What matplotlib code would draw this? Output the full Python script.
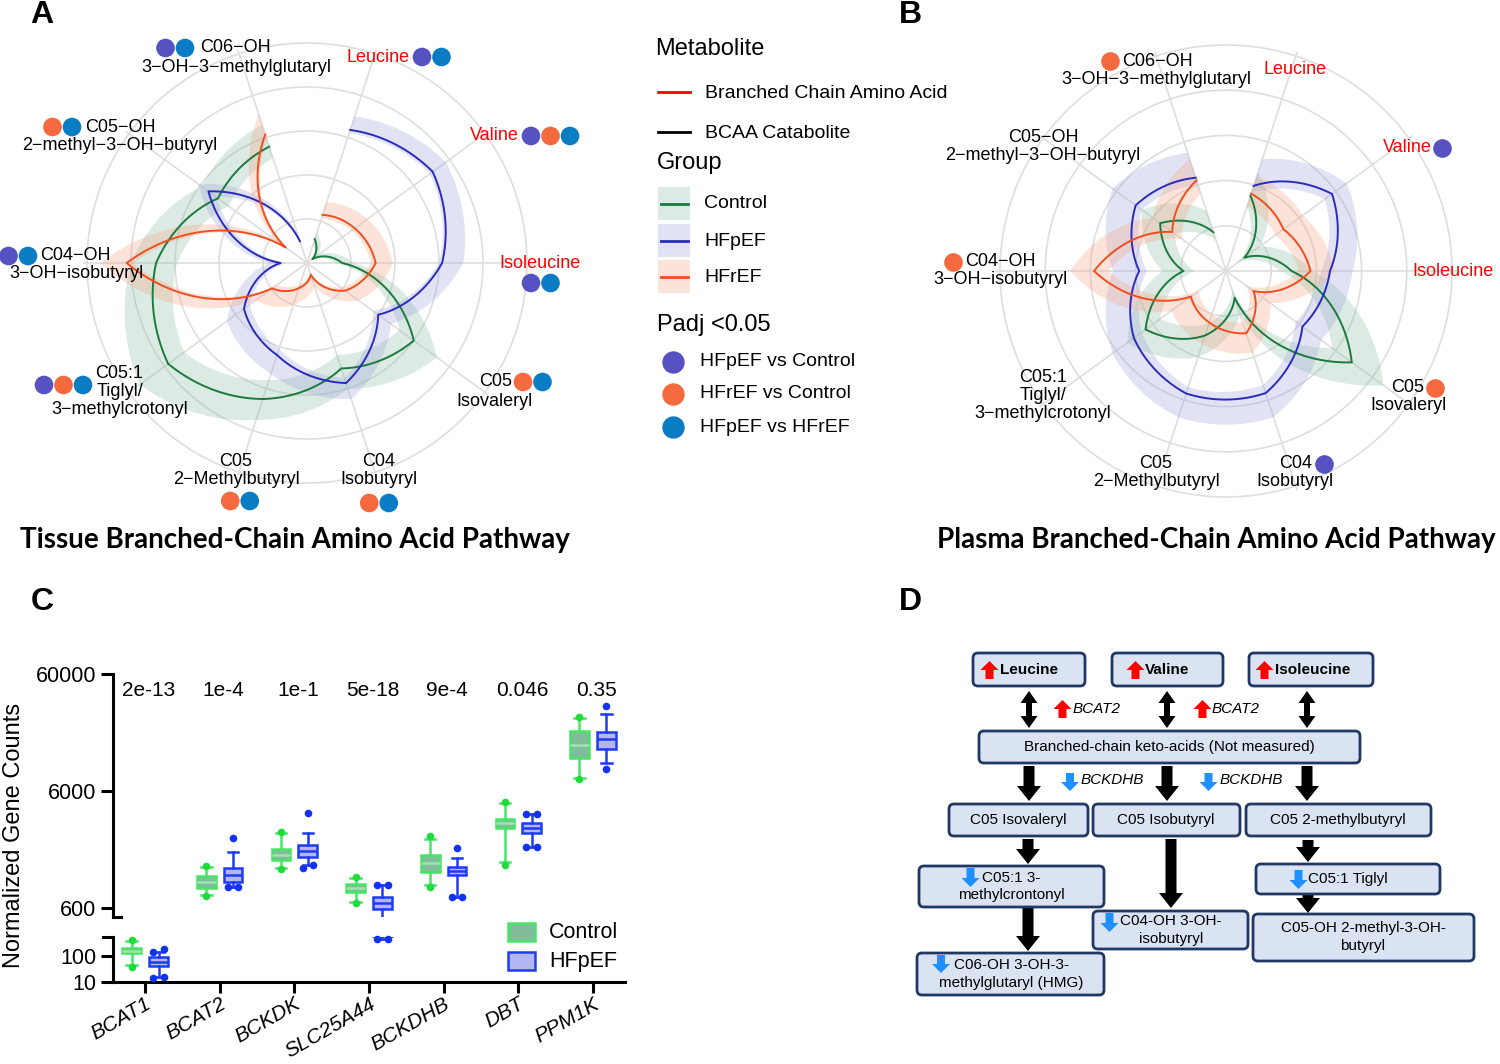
import numpy as np
import matplotlib
matplotlib.use('Agg')
import matplotlib.pyplot as plt
import matplotlib.transforms as mtransforms
from matplotlib import font_manager
from matplotlib.patches import Rectangle, FancyBboxPatch, FancyArrow

# ------------------------------------------------------------------
# Radar data (ring scale 0-5)
# spoke order: Leucine, Valine, Isoleucine, C05 Isovaleryl, C04 Isobutyryl,
#              C05 2-Methylbutyryl, C05:1 Tiglyl, C04-OH, C05-OH, C06-OH
# ------------------------------------------------------------------
metabolites = ['Leucine', 'Valine', 'Isoleucine', 'C05 Isovaleryl', 'C04 Isobutyryl',
               'C05 2-Methylbutyryl', 'C05:1 Tiglyl', 'C04-OH', 'C05-OH', 'C06-OH']
is_bcaa = [True, True, True, False, False, False, False, False, False, False]

tis_ctrl = [0.57, 0.15, 0.80, 3.00, 2.52, 3.25, 3.90, 3.43, 2.50, 2.78]
tis_ctrl_lo = [0.45, 0.10, 0.65, 2.60, 2.20, 2.80, 3.45, 2.95, 2.20, 2.50]
tis_ctrl_hi = [0.75, 0.30, 1.05, 3.65, 3.00, 3.75, 4.70, 4.00, 2.95, 3.30]
tis_hfpef = [3.18, 3.53, 3.07, 2.00, 2.87, 2.20, 1.77, 0.60, 2.77, 0.52]
tis_hfpef_lo = [3.10, 3.45, 3.00, 1.85, 2.75, 2.05, 1.60, 0.45, 2.55, 0.45]
tis_hfpef_hi = [3.50, 3.90, 3.55, 2.35, 3.25, 2.65, 2.25, 0.85, 3.05, 0.70]
tis_hfref = [1.15, 1.34, 1.56, 1.07, 0.28, 0.60, 0.98, 4.10, 0.60, 3.07]
tis_hfref_lo = [1.05, 1.25, 1.45, 0.95, 0.20, 0.50, 0.85, 3.95, 0.50, 2.95]
tis_hfref_hi = [1.45, 1.70, 1.95, 1.45, 0.55, 1.00, 1.45, 4.70, 0.85, 3.55]

pla_ctrl = [1.75, 0.50, 1.45, 3.44, 0.62, 1.50, 2.20, 0.94, 1.80, 0.90]
pla_ctrl_lo = [1.50, 0.30, 1.20, 2.90, 0.45, 1.20, 1.80, 0.70, 1.40, 0.70]
pla_ctrl_hi = [2.30, 0.90, 1.90, 4.30, 1.00, 2.00, 2.70, 1.40, 2.30, 1.40]
pla_hfpef = [1.98, 2.90, 2.30, 2.09, 2.84, 2.85, 2.52, 1.92, 2.47, 2.17]
pla_hfpef_lo = [1.80, 2.70, 2.10, 1.90, 2.65, 2.70, 2.30, 1.75, 2.30, 2.00]
pla_hfpef_hi = [2.60, 3.30, 2.80, 2.60, 3.40, 3.40, 3.10, 2.50, 3.10, 2.75]
pla_hfref = [1.80, 1.57, 1.87, 0.75, 1.45, 1.20, 0.96, 2.92, 1.47, 2.11]
pla_hfref_lo = [1.50, 1.35, 1.60, 0.55, 1.20, 1.00, 0.75, 2.60, 1.20, 1.80]
pla_hfref_hi = [2.20, 2.10, 2.40, 1.20, 1.90, 1.70, 1.50, 3.45, 2.00, 2.60]

# Padj < 0.05: pc = HFpEF vs Control, rc = HFrEF vs Control, pr = HFpEF vs HFrEF
tis_sig = [['pc', 'pr'], ['pc', 'rc', 'pr'], ['pc', 'pr'], ['rc', 'pr'], ['rc', 'pr'],
           ['rc', 'pr'], ['pc', 'rc', 'pr'], ['pc', 'pr'], ['rc', 'pr'], ['pc', 'pr']]
pla_sig = [[], ['pc'], [], ['rc'], ['pc'], [], [], ['rc'], [], ['rc']]

# ------------------------------------------------------------------
# Panel C data (normalized gene counts)
# ------------------------------------------------------------------
genes = ['BCAT1', 'BCAT2', 'BCKDK', 'SLC25A44', 'BCKDHB', 'DBT', 'PPM1K']
pvals = ['2e-13', '1e-4', '1e-1', '5e-18', '9e-4', '0.046', '0.35']

ctrl_q1 = [130, 889, 1541, 822, 1218, 2897, 11480]
ctrl_med = [155, 1000, 1702, 889, 1455, 3192, 14830]
ctrl_q3 = [204, 1127, 1915, 962, 1702, 3459, 19540]
ctrl_wlo = [45, 774, 1318, 675, 944, 1483, 7740]
ctrl_whi = [380, 1343, 2626, 1082, 2333, 4732, 25230]
ctrl_out_hi = [[400], [1380], [2680], [1110], [2474], [4850], [25800]]
ctrl_out_lo = [[38], [760], [1300], [665], [906], [1396], [7600]]

hfpef_q1 = [41, 1000, 1636, 588, 1148, 2626, 13700]
hfpef_med = [59, 1148, 1842, 662, 1241, 2897, 16690]
hfpef_q3 = [91, 1318, 2070, 745, 1343, 3192, 19150]
hfpef_wlo = [15.6, 906, 1396, 440, 745, 1995, 10400]
hfpef_whi = [142, 1806, 2626, 944, 1603, 3818, 27290]
hfpef_out_hi = [[142, 185], [2378], [3900], [944, 944], [1950], [3818, 3818], [31920]]
hfpef_out_lo = [[14, 16], [906, 906], [1318, 1396], [440, 440], [745, 745], [1995, 1995], [9240]]

# ------------------------------------------------------------------
W, H = 1500, 1064
fig = plt.figure(figsize=(15, 10.64), dpi=100)
plt.rcParams['font.family'] = ['Liberation Sans', 'DejaVu Sans']

names = {f.name for f in font_manager.fontManager.ttflist}
narrow = 'Liberation Sans Narrow' if 'Liberation Sans Narrow' in names else 'Liberation Sans'
d_fs = 13.2 if 'Narrow' in narrow else 11
title_font = ['Lato', 'DejaVu Sans'] if 'Lato' in names else ['DejaVu Sans']

line_col = {'ctrl': '#1b7a3e', 'hfpef': '#2b2bbb', 'hfref': '#f04e1e'}
band_col = {'ctrl': '#8abca2', 'hfpef': '#9ea5de', 'hfref': '#f8a584'}
sig_col = {'pc': '#5752c2', 'rc': '#f46a3e', 'pr': '#0a7cc4'}

# overlay in pixel coordinates for labels, legend and the pathway diagram
ov = fig.add_axes([0, 0, 1, 1], zorder=5)
ov.set_xlim(0, W)
ov.set_ylim(H, 0)
ov.axis('off')

spoke_deg = np.array([72, 36, 0, -36, -72, -108, -144, -180, -216, -252])
RMAX = 5.1


def radar(cx, cy, r5, series):
    rad = r5 * RMAX / 5
    ax = fig.add_axes([(cx - rad) / W, 1 - (cy + rad) / H, 2 * rad / W, 2 * rad / H],
                      projection='polar')
    th = np.deg2rad(spoke_deg)
    for vals, lo, hi, key in series:
        poly = ax.fill(np.concatenate([th, th[::-1]]),
                       np.concatenate([np.array(hi), np.array(lo)[::-1]]),
                       color=band_col[key], alpha=0.3, lw=0, zorder=2)[0]
        poly.get_path()._interpolation_steps = 40
    for vals, lo, hi, key in series:
        ln, = ax.plot(th, vals, color=line_col[key], lw=1.4, zorder=3)
        ln.get_path()._interpolation_steps = 40
    ax.set_xlim(0, 2 * np.pi)
    ax.set_ylim(0, RMAX)
    ax.set_yticks([1, 2, 3, 4, 5])
    ax.set_yticklabels([])
    ax.set_xticks(np.deg2rad(spoke_deg % 360))
    ax.set_xticklabels([])
    ax.grid(True, color='#dedede', lw=1.2)
    ax.spines['polar'].set_visible(False)
    ax.set_facecolor('none')
    return ax


radar(307, 263, 220, [(tis_ctrl, tis_ctrl_lo, tis_ctrl_hi, 'ctrl'),
                      (tis_hfpef, tis_hfpef_lo, tis_hfpef_hi, 'hfpef'),
                      (tis_hfref, tis_hfref_lo, tis_hfref_hi, 'hfref')])
radar(1226, 271, 226, [(pla_ctrl, pla_ctrl_lo, pla_ctrl_hi, 'ctrl'),
                       (pla_hfpef, pla_hfpef_lo, pla_hfpef_hi, 'hfpef'),
                       (pla_hfref, pla_hfref_lo, pla_hfref_hi, 'hfref')])

M = '\u2212'
# label layout: text lines (x, y, text, ha) and anchor for the significance dots
lab_a = [
    ([(410, 57, 'Leucine', 'right')], (422, 57, 'right')),
    ([(519, 136, 'Valine', 'right')], (531, 136, 'right')),
    ([(499, 264, 'Isoleucine', 'left')], (531, 283, 'right')),
    ([(512, 382, 'C05', 'right'), (495, 401, 'Isovaleryl', 'center')], (523, 382, 'right')),
    ([(379, 461, 'C04', 'center'), (379, 480, 'Isobutyryl', 'center')], (379, 503, 'center')),
    ([(236, 461, 'C05', 'center'), (236, 480, '2' + M + 'Methylbutyryl', 'center')], (240, 501, 'center')),
    ([(95, 373, 'C05:1', 'left'), (97, 392, 'Tiglyl/', 'left'),
      (120, 410, '3' + M + 'methylcrotonyl', 'center')], (83, 385, 'left')),
    ([(40, 255, 'C04' + M + 'OH', 'left'), (76, 273, '3' + M + 'OH' + M + 'isobutyryl', 'center')], (28, 256, 'left')),
    ([(85, 127, 'C05' + M + 'OH', 'left'),
      (120, 146, '2' + M + 'methyl' + M + '3' + M + 'OH' + M + 'butyryl', 'center')], (72, 127, 'left')),
    ([(200, 48, 'C06' + M + 'OH', 'left'),
      (236, 67, '3' + M + 'OH' + M + '3' + M + 'methylglutaryl', 'center')], (185, 48, 'left')),
]
lab_b = [
    ([(1295, 70, 'Leucine', 'center')], (1340, 70, 'right')),
    ([(1432, 147, 'Valine', 'right')], (1442, 148, 'right')),
    ([(1412, 271, 'Isoleucine', 'left')], (1440, 290, 'right')),
    ([(1424, 387, 'C05', 'right'), (1408, 405, 'Isovaleryl', 'center')], (1435, 388, 'right')),
    ([(1296, 464, 'C04', 'center'), (1295, 482, 'Isobutyryl', 'center')], (1324, 464, 'right')),
    ([(1156, 464, 'C05', 'center'), (1156, 482, '2' + M + 'Methylbutyryl', 'center')], (1156, 503, 'center')),
    ([(1043, 378, 'C05:1', 'center'), (1043, 396, 'Tiglyl/', 'center'),
      (1043, 414, '3' + M + 'methylcrotonyl', 'center')], (1000, 388, 'left')),
    ([(965, 262, 'C04' + M + 'OH', 'left'), (1000, 280, '3' + M + 'OH' + M + 'isobutyryl', 'center')], (953, 262, 'left')),
    ([(1043, 138, 'C05' + M + 'OH', 'center'),
      (1043, 156, '2' + M + 'methyl' + M + '3' + M + 'OH' + M + 'butyryl', 'center')], (1000, 138, 'left')),
    ([(1122, 61, 'C06' + M + 'OH', 'left'),
      (1156, 79, '3' + M + 'OH' + M + '3' + M + 'methylglutaryl', 'center')], (1110, 61, 'left')),
]

STEP = 19.5


def radar_labels(layout, sigs):
    for (lines, dot), red, sig in zip(layout, is_bcaa, sigs):
        for x, y, s, ha in lines:
            ov.text(x, y, s, ha=ha, va='center', fontsize=13, color='#ff0000' if red else 'black')
        n = len(sig)
        if n == 0:
            continue
        x0, y0, align = dot
        if align == 'right':
            xs = x0 + STEP * np.arange(n)
        elif align == 'left':
            xs = x0 - STEP * np.arange(n)[::-1]
        else:
            xs = x0 + STEP * (np.arange(n) - (n - 1) / 2)
        ov.scatter(xs, [y0] * n, s=180, c=[sig_col[c] for c in sig], lw=0, zorder=6)


radar_labels(lab_a, tis_sig)
radar_labels(lab_b, pla_sig)

# ------------------------------------------------------------------
# Middle legend
# ------------------------------------------------------------------
ov.text(655, 49, 'Metabolite', fontsize=17, va='center')
ov.plot([658, 690], [92, 92], color='#ff0000', lw=2)
ov.text(705, 93, 'Branched Chain Amino Acid', fontsize=14, va='center')
ov.plot([658, 690], [132, 132], color='black', lw=2)
ov.text(705, 133, 'BCAA Catabolite', fontsize=14, va='center')
ov.text(657, 163, 'Group', fontsize=17, va='center')
for (y, key, lab) in [(187, 'ctrl', 'Control'), (224, 'hfpef', 'HFpEF'), (260, 'hfref', 'HFrEF')]:
    ov.add_patch(Rectangle((658, y), 32, 33, color=band_col[key], alpha=0.3, lw=0))
    ov.plot([661, 688], [y + 17, y + 17], color=line_col[key], lw=2)
    ov.text(704, y + 17, lab, fontsize=14, va='center')
ov.text(657, 325, 'Padj <0.05', fontsize=17, va='center')
for (y, key, lab) in [(362, 'pc', 'HFpEF vs Control'), (394, 'rc', 'HFrEF vs Control'),
                      (427, 'pr', 'HFpEF vs HFrEF')]:
    ov.scatter([673], [y], s=260, color=sig_col[key], lw=0)
    ov.text(700, y, lab, fontsize=14, va='center')

# panel letters and titles
for lt, x, y in [('A', 42, 15), ('B', 910, 15), ('C', 42, 602), ('D', 910, 602)]:
    ov.text(x, y, lt, fontsize=23, fontweight='bold', ha='center', va='center')
ov.text(295, 540, 'Tissue Branched-Chain Amino Acid Pathway', fontsize=20, fontweight='bold',
        ha='center', va='center', family=title_font)
ov.text(1216, 540, 'Plasma Branched-Chain Amino Acid Pathway', fontsize=20, fontweight='bold',
        ha='center', va='center', family=title_font)

# ------------------------------------------------------------------
# Panel C: broken log axis box plots
# ------------------------------------------------------------------
C_L, C_R = 113, 625
up_top, up_bot = 674, 917
lo_top, lo_bot = 937, 982
ax_up = fig.add_axes([C_L / W, 1 - up_bot / H, (C_R - C_L) / W, (up_bot - up_top) / H])
ax_lo = fig.add_axes([C_L / W, 1 - lo_bot / H, (C_R - C_L) / W, (lo_bot - lo_top) / H])
up_min = 60000 / 10 ** ((up_bot - up_top) / 117)
lo_max = 10 ** (1 + (lo_bot - lo_top) / 26)

ctrl_face, ctrl_edge, ctrl_med_c, ctrl_dot = '#80bd9c', '#45e565', '#9fe3ae', '#1fdc3a'
hf_face, hf_edge, hf_med_c, hf_dot = '#b3b6f2', '#1d3cf0', '#1d3cf0', '#1133ee'

xpos = np.arange(len(genes))


def box_stats(q1, med, q3, wlo, whi):
    return [dict(q1=a, med=b, q3=c, whislo=d, whishi=e, fliers=[])
            for a, b, c, d, e in zip(q1, med, q3, wlo, whi)]


ctrl_stats = box_stats(ctrl_q1, ctrl_med, ctrl_q3, ctrl_wlo, ctrl_whi)
hf_stats = box_stats(hfpef_q1, hfpef_med, hfpef_q3, hfpef_wlo, hfpef_whi)

for axc in (ax_up, ax_lo):
    axc.set_yscale('log')
    for st, off, face, edge, medc in [(ctrl_stats, -0.18, ctrl_face, ctrl_edge, ctrl_med_c),
                                      (hf_stats, 0.18, hf_face, hf_edge, hf_med_c)]:
        axc.bxp(st, positions=xpos + off, widths=0.25, patch_artist=True, showfliers=False,
                capwidths=0.14, manage_ticks=False,
                boxprops=dict(facecolor=face, edgecolor=edge, linewidth=1.8),
                medianprops=dict(color=medc, linewidth=1.8),
                whiskerprops=dict(color=edge, linewidth=1.8),
                capprops=dict(color=edge, linewidth=1.8))
    axc.set_xlim(-0.43, 6.43)
    axc.set_facecolor('none')
    axc.yaxis.set_minor_locator(matplotlib.ticker.NullLocator())
    for s in ('top', 'right'):
        axc.spines[s].set_visible(False)
    axc.spines['left'].set_linewidth(2.2)
    axc.spines['bottom'].set_linewidth(2.2)
    axc.tick_params(axis='both', width=2.2, length=9, labelsize=15.5, pad=3)

ax_up.set_ylim(up_min, 60000)
ax_lo.set_ylim(10, lo_max)
ax_up.spines['bottom'].set_visible(False)
ax_up.set_xticks([])
ax_up.set_yticks([600, 6000, 60000])
ax_up.set_yticklabels(['600', '6000', '60000'])
ax_lo.set_yticks([10, 100])
ax_lo.set_yticklabels(['10', '100'])
ax_lo.set_xticks(xpos)
ax_lo.set_xticklabels(genes, rotation=30, ha='right', rotation_mode='anchor', style='italic',
                      fontsize=15)
ax_lo.tick_params(axis='x', length=8, pad=1)

# fliers, drawn on whichever segment holds the value
for outs, off, col in [(ctrl_out_hi, -0.18, ctrl_dot), (ctrl_out_lo, -0.18, ctrl_dot),
                       (hfpef_out_hi, 0.18, hf_dot), (hfpef_out_lo, 0.18, hf_dot)]:
    for i, vals in enumerate(outs):
        n = len(vals)
        dx = [0.0] if n == 1 else list(np.linspace(-0.07, 0.07, n))
        for v, d in zip(vals, dx):
            target = ax_up if v >= up_min else ax_lo
            target.scatter([i + off + d], [v], s=30, color=col, lw=0, zorder=4, clip_on=False)

# break marks
ax_up.plot([0, 0.016], [0, 0], transform=ax_up.transAxes, color='black', lw=2.2, clip_on=False)
ax_lo.plot([-0.02, 0], [1, 1], transform=ax_lo.transAxes, color='black', lw=2.2, clip_on=False)

tr = mtransforms.blended_transform_factory(ax_up.transData, ax_up.transAxes)
for i, p in enumerate(pvals):
    ax_up.text(i + 0.05, 0.934, p, transform=tr, ha='center', va='center', fontsize=15)

ov.text(14, 835, 'Normalized Gene Counts', rotation=90, fontsize=17, ha='center', va='center')
ov.add_patch(Rectangle((508, 923), 27, 18, facecolor=ctrl_face, edgecolor=ctrl_edge, lw=1.8))
ov.text(549, 933, 'Control', fontsize=15.5, va='center')
ov.add_patch(Rectangle((508, 952), 27, 18, facecolor=hf_face, edgecolor=hf_edge, lw=1.8))
ov.text(549, 961, 'HFpEF', fontsize=15.5, va='center')

# ------------------------------------------------------------------
# Panel D: pathway diagram
# ------------------------------------------------------------------
BOX_FC, BOX_EC = '#d9e3f2', '#1f3864'
UP_RED, DOWN_BLUE = '#ff0000', '#1e90ff'


def dbox(x0, y0, x1, y1):
    ov.add_patch(FancyBboxPatch((x0, y0), x1 - x0, y1 - y0,
                                boxstyle='round,pad=0,rounding_size=5',
                                fc=BOX_FC, ec=BOX_EC, lw=2, zorder=6))


def icon(x, ytop, ybot, up, col):
    if up:
        a = FancyArrow(x, ybot, 0, ytop - ybot, width=8, head_width=18, head_length=9,
                       length_includes_head=True, fc=col, ec='none', zorder=7)
    else:
        a = FancyArrow(x, ytop, 0, ybot - ytop, width=8, head_width=18, head_length=9,
                       length_includes_head=True, fc=col, ec='none', zorder=7)
    ov.add_patch(a)


def black_arrow(x, y0, y1, w=11, hw=24, hl=15):
    ov.add_patch(FancyArrow(x, y0, 0, y1 - y0, width=w, head_width=hw, head_length=hl,
                            length_includes_head=True, fc='black', ec='none', zorder=6))


def dtext(x, y, s, ha='center', **kw):
    ov.text(x, y, s, ha=ha, va='center', fontsize=d_fs, family=[narrow, 'DejaVu Sans'],
            linespacing=1.3, zorder=8, **kw)


# top amino acids
for (x0, x1, lab, ix, tx) in [(973, 1085, 'Leucine', 989.5, 1000),
                              (1112, 1223, 'Valine', 1135.5, 1145),
                              (1249, 1373, 'Isoleucine', 1264.5, 1275)]:
    dbox(x0, 653, x1, 686)
    icon(ix, 661, 679, True, UP_RED)
    dtext(tx, 670, lab, ha='left', fontweight='bold')

# double arrows between amino acids and keto-acids
for x in (1029, 1167, 1307):
    black_arrow(x, 709, 691, w=6, hw=17, hl=12)
    black_arrow(x, 709, 728, w=6, hw=17, hl=12)

for ix, tx in [(1062.5, 1073), (1202.5, 1212)]:
    icon(ix, 700, 718, True, UP_RED)
    dtext(tx, 709, 'BCAT2', ha='left', style='italic')

dbox(979, 731, 1360, 763)
dtext(1169, 747, 'Branched-chain keto-acids (Not measured)')

for x in (1029, 1167, 1307):
    black_arrow(x, 766, 801)
for ix, tx in [(1070, 1081), (1208.5, 1220)]:
    icon(ix, 773, 791, False, DOWN_BLUE)
    dtext(tx, 780, 'BCKDHB', ha='left', style='italic')

dbox(949, 804, 1088, 836)
dtext(1018, 820, 'C05 Isovaleryl')
dbox(1093, 804, 1240, 836)
dtext(1166, 820, 'C05 Isobutyryl')
dbox(1246, 804, 1431, 836)
dtext(1338, 820, 'C05 2-methylbutyryl')

black_arrow(1028, 839, 864)
black_arrow(1171, 839, 908)
black_arrow(1308, 840, 862)
black_arrow(1308, 895, 913)
black_arrow(1028, 908, 951)

dbox(919, 866, 1104, 907)
icon(970.5, 868, 887, False, DOWN_BLUE)
dtext(1011, 886.5, 'C05:1 3-\nmethylcrontonyl')

dbox(1256, 864, 1440, 894)
icon(1298.5, 870, 889, False, DOWN_BLUE)
dtext(1308, 879, 'C05:1 Tiglyl', ha='left')

dbox(1093, 911, 1248, 949)
icon(1109.5, 913, 932, False, DOWN_BLUE)
dtext(1171, 930, 'C04-OH 3-OH-\nisobutyryl')

dbox(1253, 914, 1474, 961)
dtext(1363, 937, 'C05-OH 2-methyl-3-OH-\nbutyryl')

dbox(917, 953, 1104, 995)
icon(941, 955, 973, False, DOWN_BLUE)
dtext(1011, 974, 'C06-OH 3-OH-3-\nmethylglutaryl (HMG)')

fig.savefig('out.png', dpi=100)
plt.close(fig)
